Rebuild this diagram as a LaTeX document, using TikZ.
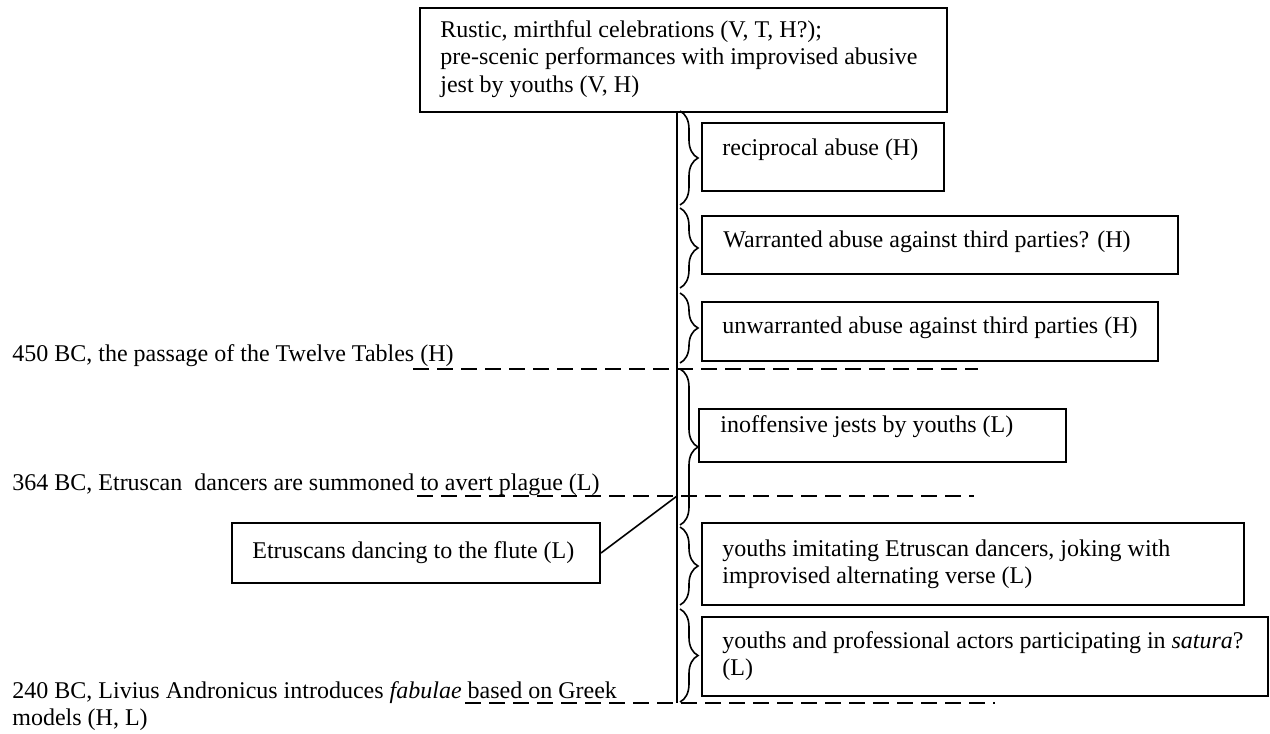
\documentclass[tikz,border=0pt]{standalone}
\usepackage{fontspec}
\setmainfont{Liberation Serif}
\usetikzlibrary{decorations.pathreplacing,fit}
\begin{document}
\begin{tikzpicture}[x=0.5pt,y=-0.5pt,
  box/.style={draw,line width=1pt,inner sep=0pt},
  txt/.style={anchor=base west,inner sep=0pt,font=\fontsize{12}{13.8}\selectfont},
  brc/.style={decorate,decoration={brace,amplitude=9pt},line width=0.8pt},
  spine/.style={line width=1.1pt},
  era/.style={dash pattern=on 8pt off 4pt,line width=0.9pt},
  link/.style={line width=0.8pt}]
\fill[white] (0,0) rectangle (1270,734);
\useasboundingbox (0,0) rectangle (1270,734);

% boxes
\node[box,fit={(420,8) (947,112)}] (top) {};
\node[box,fit={(702,123) (944,191)}] (b1) {};
\node[box,fit={(702,216) (1178,274)}] (b2) {};
\node[box,fit={(702,302) (1158,361)}] (b3) {};
\node[box,fit={(699,409) (1066,462)}] (b4) {};
\node[box,fit={(702,523) (1244,605)}] (b5) {};
\node[box,fit={(702,617) (1268,696)}] (b6) {};
\node[box,fit={(232,523) (600,583)}] (etr) {};

% texts
\node[txt] (ttop) at (440,37) {\begin{tabular}[t]{@{}l@{}}Rustic, mirthful celebrations (V, T, H?);\\pre-scenic performances with improvised abusive\\jest by youths (V, H)\end{tabular}};
\node[txt] (t1) at (722,155) {reciprocal abuse (H)};
\node[txt] (t2) at (723,247) {Warranted abuse against third parties? (H)};
\node[txt] (t3) at (722,333) {unwarranted abuse against third parties (H)};
\node[txt] (t4) at (720,432) {inoffensive jests by youths (L)};
\node[txt] (t5) at (722,556) {\begin{tabular}[t]{@{}l@{}}youths imitating Etruscan dancers, joking with\\improvised alternating verse (L)\end{tabular}};
\node[txt] (t6) at (722,648) {\begin{tabular}[t]{@{}l@{}}youths and professional actors participating in \textit{satura}?\\(L)\end{tabular}};
\node[txt] (tetr) at (252,558) {Etruscans dancing to the flute (L)};
\node[txt] (y450) at (12,361) {450 BC, the passage of the Twelve Tables (H)};
\node[txt] (y364) at (12,490) {364 BC, Etruscan\ \ dancers are summoned to avert plague (L)};
\node[txt] (y240) at (12,698) {\begin{tabular}[t]{@{}l@{}}240 BC, Livius Andronicus introduces \textit{fabulae} based on Greek\\models (H, L)\end{tabular}};

% spine
\coordinate (spbot) at (677,703);
\draw[spine] (top.south -| spbot) -- (spbot);

% era lines
\coordinate (e450a) at (413,369); \coordinate (e450b) at (978,369);
\coordinate (e364a) at (417,496); \coordinate (e364b) at (974,496);
\coordinate (e240a) at (465,703); \coordinate (e240b) at (995,703);
\draw[era] (e450a) -- (e450b);
\draw[era] (e364a) -- (e364b);
\draw[era] (e240a) -- (e240b);

% link from Etruscan box to spine
\coordinate (x364) at (677,496);
\draw[link] (etr.east) -- (x364);

% braces
\coordinate (k0) at (680,111); \coordinate (k1) at (680,205);
\coordinate (k2) at (680,208); \coordinate (k3) at (680,288);
\coordinate (k4) at (680,293); \coordinate (k5) at (680,363);
\coordinate (k6) at (680,369); \coordinate (k7) at (680,525);
\coordinate (k8) at (680,527); \coordinate (k9) at (680,605);
\coordinate (k10) at (680,609); \coordinate (k11) at (680,702);
\draw[brc] (k0) -- (k1);
\draw[brc] (k2) -- (k3);
\draw[brc] (k4) -- (k5);
\draw[brc] (k6) -- (k7);
\draw[brc] (k8) -- (k9);
\draw[brc] (k10) -- (k11);
\end{tikzpicture}
\end{document}
